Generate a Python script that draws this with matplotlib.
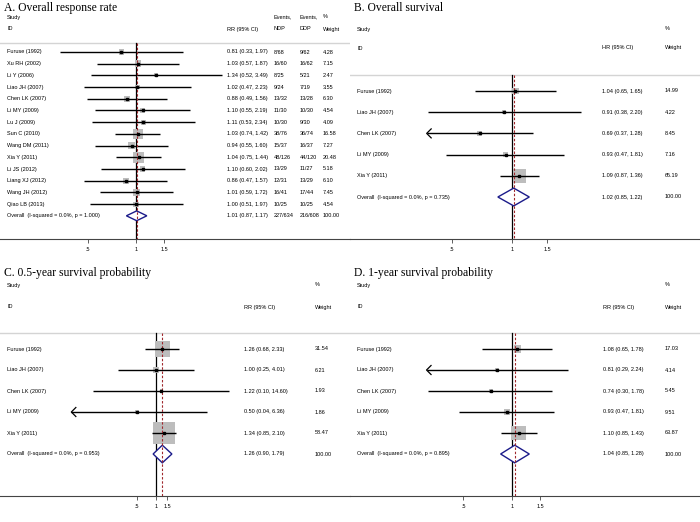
import numpy as np
import matplotlib
matplotlib.use('Agg')
import matplotlib.pyplot as plt
from matplotlib.patches import Rectangle, Polygon

plt.rcParams['font.family'] = ['Liberation Sans', 'DejaVu Sans']

# ---- A. Overall response rate ----
a_studies = ['Furuse (1992)', 'Xu RH (2002)', 'Li Y (2006)', 'Liao JH (2007)', 'Chen LK (2007)',
             'Li MY (2009)', 'Lu J (2009)', 'Sun C (2010)', 'Wang DM (2011)', 'Xia Y (2011)',
             'Li JS (2012)', 'Liang XJ (2012)', 'Wang JH (2012)', 'Qiao LB (2013)']
a_est = [0.81, 1.03, 1.34, 1.02, 0.88, 1.10, 1.11, 1.03, 0.94, 1.04, 1.10, 0.86, 1.01, 1.00]
a_lo = [0.33, 0.57, 0.52, 0.47, 0.49, 0.55, 0.53, 0.74, 0.55, 0.75, 0.60, 0.47, 0.59, 0.51]
a_hi = [1.97, 1.87, 3.49, 2.23, 1.56, 2.19, 2.34, 1.42, 1.60, 1.44, 2.02, 1.57, 1.72, 1.97]
a_ndp = ['8/68', '16/60', '8/25', '9/24', '13/32', '11/30', '10/30', '38/76', '15/37', '48/126',
         '13/29', '12/31', '16/41', '10/25']
a_ddp = ['9/62', '16/62', '5/21', '7/19', '13/28', '10/30', '9/30', '36/74', '16/37', '44/120',
         '11/27', '13/29', '17/44', '10/25']
a_wt = [4.28, 7.15, 2.47, 3.55, 6.30, 4.54, 4.09, 16.58, 7.27, 20.48, 5.18, 6.10, 7.45, 4.54]
a_overall = (1.01, 0.87, 1.17)
a_overall_ev = ('227/634', '216/608')
a_p = '1.000'

# ---- B, C, D share the same five studies ----
five_studies = ['Furuse (1992)', 'Liao JH (2007)', 'Chen LK (2007)', 'Li MY (2009)', 'Xia Y (2011)']

b_est = [1.04, 0.91, 0.69, 0.93, 1.09]
b_lo = [0.65, 0.38, 0.37, 0.47, 0.87]
b_hi = [1.65, 2.20, 1.28, 1.81, 1.36]
b_wt = [14.99, 4.22, 8.45, 7.16, 65.19]
b_overall = (1.02, 0.85, 1.22)
b_p = '0.735'

c_est = [1.26, 1.00, 1.22, 0.50, 1.34]
c_lo = [0.68, 0.25, 0.10, 0.04, 0.85]
c_hi = [2.33, 4.01, 14.60, 6.36, 2.10]
c_wt = [31.54, 6.21, 1.93, 1.86, 58.47]
c_overall = (1.26, 0.90, 1.79)
c_p = '0.953'

d_est = [1.08, 0.81, 0.74, 0.93, 1.10]
d_lo = [0.65, 0.29, 0.30, 0.47, 0.85]
d_hi = [1.78, 2.24, 1.78, 1.81, 1.43]
d_wt = [17.03, 4.14, 5.45, 9.51, 63.87]
d_overall = (1.04, 0.85, 1.28)
d_p = '0.895'

W, H = 700, 522
fig = plt.figure(figsize=(7, 5.22), dpi=100)

FS = 4.0
BOXC = '#bdbdbd'
REDC = '#a0282d'
NAVY = '#1b1b8a'


def ci_txt(e, l, h):
    return '{:.2f} ({:.2f}, {:.2f})'.format(e, l, h)


def panel(cfg):
    left, width, top, axis_y = cfg['left'], cfg['width'], cfg['top'], cfg['axis_y']
    x1, sc = cfg['x1'], cfg['scale']
    ax = fig.add_axes([left / W, 1 - axis_y / H, width / W, (axis_y - top) / H])
    ax.set_xlim((left - x1) / sc, (left + width - x1) / sc)
    ax.set_ylim(axis_y, top)
    ax.patch.set_alpha(0)
    for s in ['top', 'right', 'left']:
        ax.spines[s].set_visible(False)
    ax.spines['bottom'].set_color('#444444')
    ax.spines['bottom'].set_linewidth(0.8)
    ax.set_yticks([])
    ticks = [0.5, 1, 1.5]
    ax.set_xticks(np.log(ticks))
    ax.set_xticklabels(['.5', '1', '1.5'], fontsize=FS)
    ax.tick_params(axis='x', length=3, width=0.6, color='#444444', pad=3)

    def px(p):
        return (p - x1) / sc

    # title
    ax.text(px(left + 4), cfg['title_y'], cfg['title'], fontsize=8.4, family='Liberation Serif',
            va='center', ha='left', clip_on=False)
    # headers
    for txt, xx, yy in cfg['headers']:
        ax.text(px(xx), yy, txt, fontsize=FS, va='center', ha='left')
    ax.plot([px(left), px(left + width)], [cfg['sep_y']] * 2, color='#d4d4d4', lw=1.0)

    est, lo, hi, wt = cfg['est'], cfg['lo'], cfg['hi'], cfg['wt']
    n = len(est)
    rows = cfg['row0'] + np.arange(n + 1) * cfg['dy']

    # reference lines
    ax.plot([0, 0], [cfg['sep_y'], axis_y], color='black', lw=0.9, zorder=2)
    ax.plot([np.log(cfg['overall'][0])] * 2, [cfg['sep_y'], axis_y], color=REDC, lw=0.8,
            dashes=(2.2, 1.6), zorder=5)

    clip = cfg.get('clip')
    for i in range(n):
        y = rows[i]
        side = cfg['k'] * np.sqrt(wt[i])
        ax.add_patch(Rectangle((np.log(est[i]) - side / 2 / sc, y - side / 2), side / sc, side,
                               facecolor=BOXC, edgecolor='none', zorder=3))
        l = lo[i]
        arrow = clip is not None and l < clip
        if arrow:
            l = clip
        ax.plot([np.log(l), np.log(hi[i])], [y, y], color='black', lw=1.0, zorder=4,
                solid_capstyle='butt')
        if arrow:
            xa = np.log(l)
            ax.plot([xa + 4.5 / sc, xa, xa + 4.5 / sc], [y - 4.5, y, y + 4.5], color='black',
                    lw=0.9, zorder=4)
        ax.plot(np.log(est[i]), y, marker='s', ms=1.8, color='black', zorder=6)
        ax.text(px(cfg['text_x']), y, cfg['studies'][i], fontsize=FS, va='center', ha='left')
        ax.text(px(cfg['ci_x']), y, ci_txt(est[i], lo[i], hi[i]), fontsize=FS, va='center')
        for col, xx in cfg.get('extra_cols', []):
            ax.text(px(xx), y, col[i], fontsize=FS, va='center')
        ax.text(px(cfg['wt_x']), y, '{:.2f}'.format(wt[i]), fontsize=FS, va='center')

    # overall diamond
    y = rows[n]
    e, l, h = cfg['overall']
    hh = cfg['dy'] * 0.42
    ax.add_patch(Polygon([(np.log(l), y), (np.log(e), y - hh), (np.log(h), y), (np.log(e), y + hh)],
                         closed=True, facecolor='white', edgecolor=NAVY, lw=1.0, zorder=4))
    ax.text(px(cfg['text_x']), y, 'Overall  (I-squared = 0.0%, p = {})'.format(cfg['p']),
            fontsize=FS, va='center')
    ax.text(px(cfg['ci_x']), y, ci_txt(e, l, h), fontsize=FS, va='center')
    for col, xx in cfg.get('overall_extra', []):
        ax.text(px(xx), y, col, fontsize=FS, va='center')
    ax.text(px(cfg['wt_x']), y, '100.00', fontsize=FS, va='center')
    return ax


panel(dict(left=0, width=350, top=0, axis_y=239, x1=136, scale=69, title='A. Overall response rate',
           title_y=8, headers=[('Study', 7, 17), ('ID', 7, 29), ('RR (95% CI)', 227, 29),
                               ('Events,', 274, 17), ('NDP', 274, 29), ('Events,', 300, 17),
                               ('DDP', 300, 29), ('%', 323, 17), ('Weight', 323, 29)],
           sep_y=43, row0=52, dy=11.7, est=a_est, lo=a_lo, hi=a_hi, wt=a_wt, k=2.43,
           studies=a_studies, overall=a_overall, p=a_p, text_x=7, ci_x=227, wt_x=323,
           extra_cols=[(a_ndp, 274), (a_ddp, 300)],
           overall_extra=[(a_overall_ev[0], 274), (a_overall_ev[1], 300)]))

panel(dict(left=350, width=350, top=0, axis_y=239, x1=512, scale=87, title='B. Overall survival',
           title_y=8, headers=[('Study', 357, 29), ('ID', 357, 48), ('HR (95% CI)', 602, 48),
                               ('%', 665, 29), ('Weight', 665, 48)],
           sep_y=75, row0=91, dy=21.2, est=b_est, lo=b_lo, hi=b_hi, wt=b_wt, k=1.73,
           studies=five_studies, overall=b_overall, p=b_p, text_x=357, ci_x=602, wt_x=665,
           clip=0.375))

panel(dict(left=0, width=350, top=262, axis_y=496, x1=156, scale=27.3,
           title='C. 0.5-year survival probability', title_y=273,
           headers=[('Study', 7, 285), ('ID', 7, 307), ('RR (95% CI)', 244, 307),
                    ('%', 315, 285), ('Weight', 315, 307)],
           sep_y=333, row0=349, dy=21, est=c_est, lo=c_lo, hi=c_hi, wt=c_wt, k=2.75,
           studies=five_studies, overall=c_overall, p=c_p, text_x=7, ci_x=244, wt_x=315,
           clip=0.045))

panel(dict(left=350, width=350, top=262, axis_y=496, x1=512, scale=70,
           title='D. 1-year survival probability', title_y=273,
           headers=[('Study', 357, 285), ('ID', 357, 307), ('RR (95% CI)', 603, 307),
                    ('%', 665, 285), ('Weight', 665, 307)],
           sep_y=333, row0=349, dy=21, est=d_est, lo=d_lo, hi=d_hi, wt=d_wt, k=1.84,
           studies=five_studies, overall=d_overall, p=d_p, text_x=357, ci_x=603, wt_x=665,
           clip=0.295))

fig.savefig('out.png', dpi=100)
